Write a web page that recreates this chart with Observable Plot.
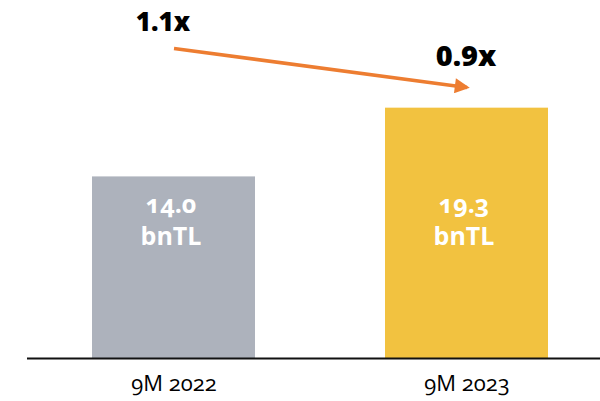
<!DOCTYPE html>
<html>
<head>
<meta charset="utf-8">
<script src="https://cdn.jsdelivr.net/npm/d3@7"></script>
<script src="https://cdn.jsdelivr.net/npm/@observablehq/plot@0.6"></script>
<style>
  html, body { margin: 0; padding: 0; background: #fff; }
  #chart svg { display: block; }
  .ratio-label text { font-variant-numeric: lining-nums; }
</style>
</head>
<body>
<div id="chart"></div>
<script>
// Data
const periods = ["9M 2022", "9M 2023"];
const values = [14.0, 19.3];
const unit = "bnTL";
const barColors = ["#ADB2BC", "#F2C240"];
const ratioLabels = ["1.1x", "0.9x"];
const ratioY = [25.9, 23.25];
const arrowY = [23.9, 20.9];

const bars = periods.map((p, i) => ({period: p, value: values[i], color: barColors[i]}));
const ratios = periods.map((p, i) => ({period: p, label: ratioLabels[i], y: ratioY[i]}));
const arrow = [{x1: periods[0], y1: arrowY[0], x2: periods[1], y2: arrowY[1]}];

const chart = Plot.plot({
  width: 600,
  height: 401,
  marginLeft: 27,
  marginRight: 0,
  marginTop: 0,
  marginBottom: 43,
  style: "font-family: 'Open Sans', Lato, sans-serif; font-variant-numeric: oldstyle-nums; background: white; color: black;",
  x: {domain: periods, range: [27, 613], paddingInner: 0.442, paddingOuter: 0.218, axis: null},
  y: {domain: [0, 27.6], axis: null},
  marks: [
    Plot.barY(bars, {x: "period", y: "value", fill: "color"}),
    Plot.ruleY([0], {stroke: "#111", strokeWidth: 2}),
    Plot.text(bars, {
      x: "period", y: () => 10.8, dx: -3,
      text: d => `${d.value.toFixed(1)}\n${unit}`,
      fill: "white", fontWeight: "bold", fontSize: 25, lineHeight: 1.3, lineAnchor: "middle"
    }),
    Plot.link(arrow, {x1: "x1", y1: "y1", x2: "x2", y2: "y2", stroke: "#ED7D31", strokeWidth: 3.5, className: "ratio-arrow"}),
    Plot.text(ratios.slice(0, 1), {
      x: "period", y: "y", text: "label", dx: -11, className: "ratio-label",
      fill: "black", fontWeight: 800, fontSize: 26, lineAnchor: "middle"
    }),
    Plot.text(ratios.slice(1), {
      x: "period", y: "y", text: "label", dx: -1, className: "ratio-label",
      fill: "black", fontWeight: 800, fontSize: 29, lineAnchor: "middle"
    }),
    Plot.axisX({tickSize: 0, tickPadding: 17, fontSize: 22, color: "black", label: null})
  ]
});

// filled triangular arrow head
const svg = d3.select(chart);
const defs = svg.append("defs");
defs.append("marker")
  .attr("id", "tri-head")
  .attr("viewBox", "0 0 16 16")
  .attr("refX", 13)
  .attr("refY", 8)
  .attr("markerWidth", 16)
  .attr("markerHeight", 15)
  .attr("markerUnits", "userSpaceOnUse")
  .attr("orient", "auto")
  .append("path")
  .attr("d", "M0,0L16,8L0,16Z")
  .attr("fill", "#ED7D31");
svg.selectAll(".ratio-arrow path, .ratio-arrow line").attr("marker-end", "url(#tri-head)");

document.getElementById("chart").appendChild(chart);
</script>
</body>
</html>
